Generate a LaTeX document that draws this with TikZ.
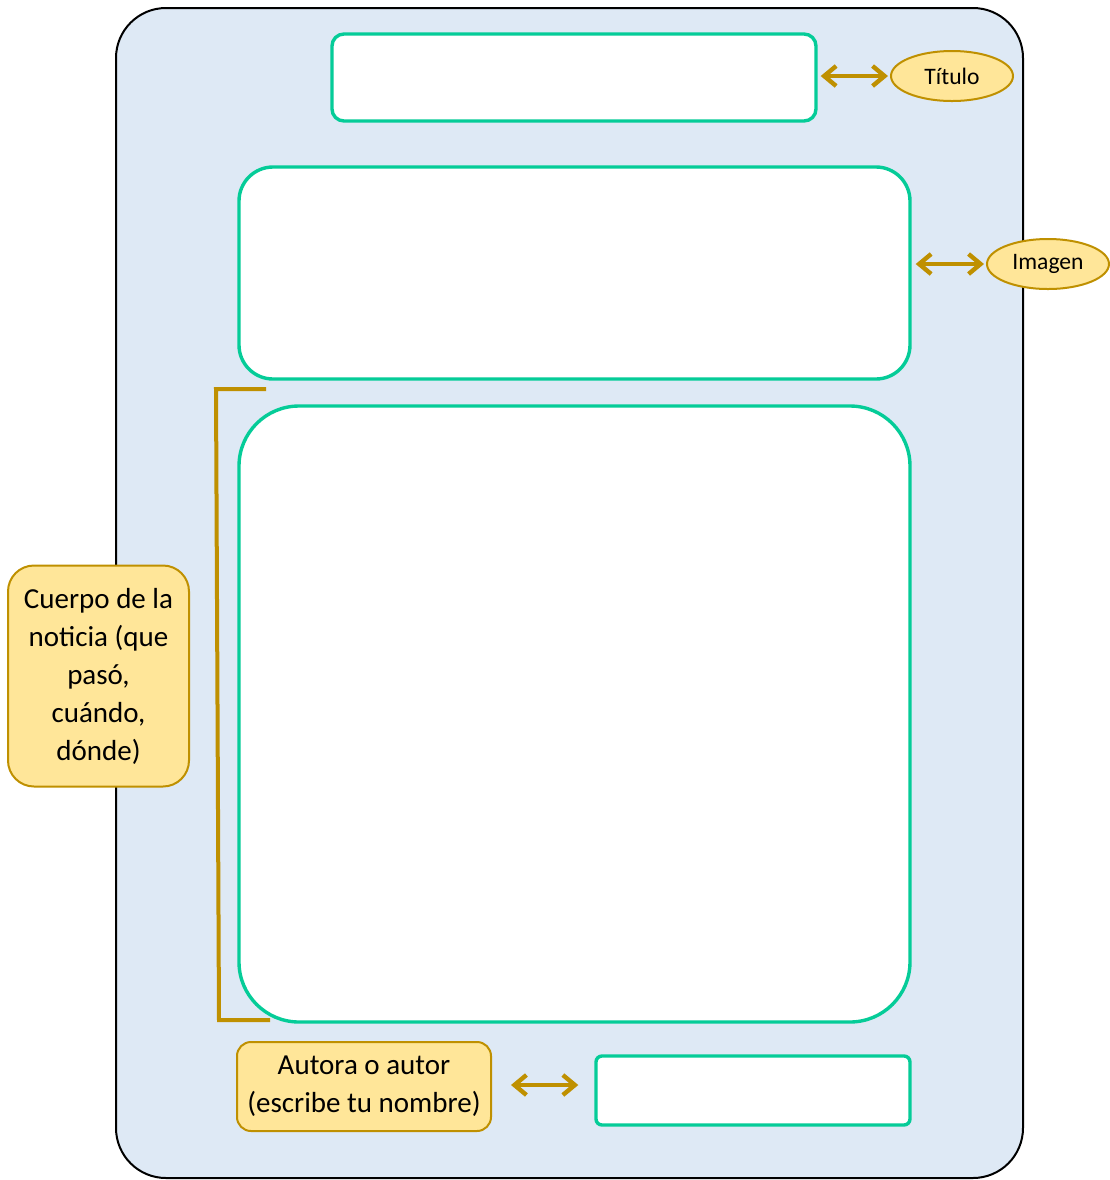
\documentclass[tikz,border=0pt]{standalone}
\usepackage{fontspec}
\setmainfont{Carlito}
\usetikzlibrary{arrows.meta,shapes.geometric}
\definecolor{boardblue}{HTML}{DEE9F5}
\definecolor{boxgreen}{HTML}{05CC98}
\definecolor{notefill}{HTML}{FFE699}
\definecolor{notegold}{HTML}{BF9000}
\tikzset{
  slot/.style={draw=boxgreen, line width=1.7pt, fill=white, inner sep=0pt},
  tag/.style={ellipse, draw=notegold, line width=1pt, fill=notefill, inner sep=0pt,
    minimum width=61pt, minimum height=25pt, font=\fontsize{11.8}{14}\selectfont},
  note/.style={draw=notegold, line width=1pt, fill=notefill, inner sep=0pt, align=center,
    font=\fontsize{14.5}{19}\selectfont},
  link/.style={draw=notegold, line width=2.2pt, {Straight Barb[length=6pt,width=10pt]}-{Straight Barb[length=6pt,width=10pt]}}
}
\begin{document}
\begin{tikzpicture}[x=0.5pt, y=-0.5pt]
			\useasboundingbox (0,0) rectangle (1110,1180);
			% hoja
			\draw[fill=boardblue, draw=black, line width=1pt, rounded corners=25pt] (116,8) rectangle (1023,1178);
			% cajas verdes
			\node[slot, rounded corners=6pt, minimum width=242pt, minimum height=43.5pt](titulo) at (574,77.5){};
			\node[slot, rounded corners=17pt, minimum width=335.5pt, minimum height=106pt](imagen) at (574.5,273){};
			\node[slot, rounded corners=30pt, minimum width=335.5pt, minimum height=308pt](cuerpo) at (574.5,714){};
			\node[slot, rounded corners=3pt, minimum width=157pt, minimum height=34.5pt](autor) at (753,1090.5){};
			% etiquetas
			\node[tag](tagtitulo) at (952,76){Título};
			\node[tag](tagimagen) at (1048,264){Imagen};
			\node[note, rounded corners=13pt, minimum width=90.5pt, minimum height=110.5pt](tagcuerpo) at (98.5,676){Cuerpo de la\\noticia (que\\pasó,\\cuándo,\\dónde)};
			\node[note, rounded corners=7pt, minimum width=127pt, minimum height=44.5pt](tagautor) at (364,1086.5){Autora o autor\\(escribe tu nombre)};
			% flechas
			\draw[link, shorten <=1.5pt, shorten >=1pt] (titulo.east |- tagtitulo.west) -- (tagtitulo.west);
			\draw[link, shorten <=2pt, shorten >=1pt] (imagen.east |- tagimagen.west) -- (tagimagen.west);
			\draw[link, shorten <=9.5pt, shorten >=8pt] (tagautor.east |- 0,1085) -- (autor.west |- 0,1085);
			% corchete
			\draw[notegold, line width=2pt] (266,389) -- (216,389) -- (219,1020) -- (270,1020);
			\end{tikzpicture}
\end{document}
